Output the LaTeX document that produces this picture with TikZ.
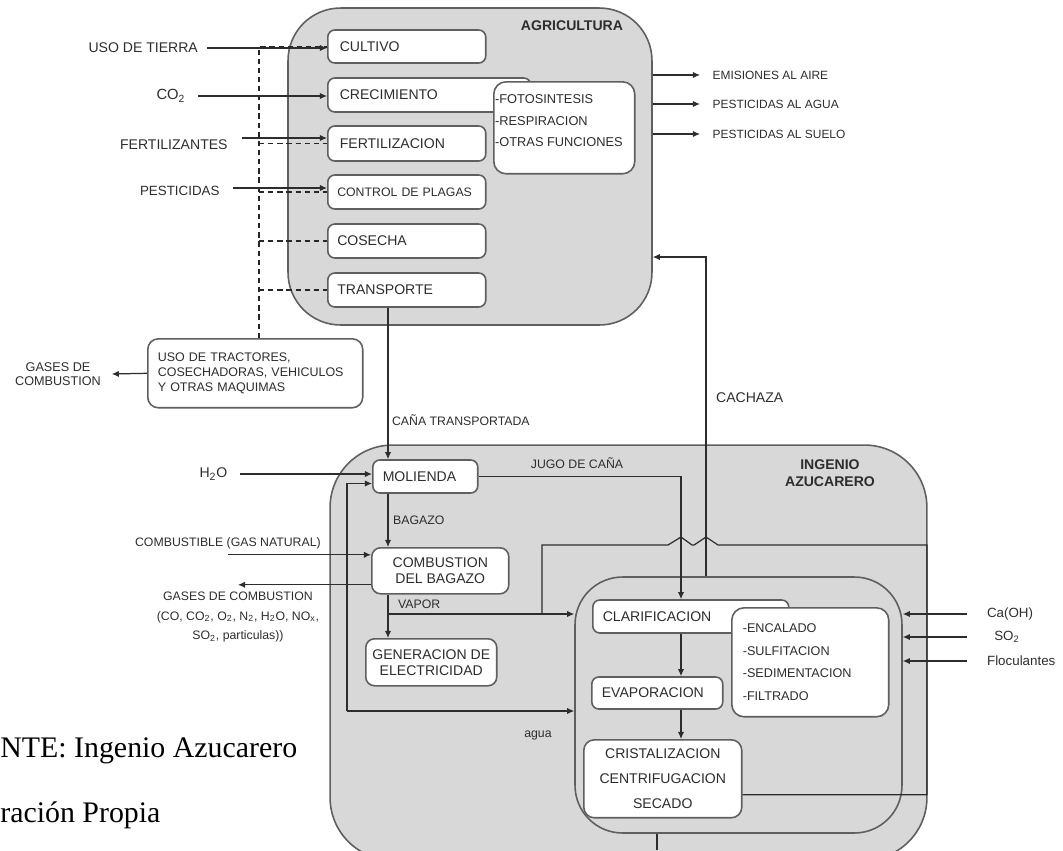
\documentclass[tikz,border=0pt]{standalone}
\usepackage{fontspec}
\setmainfont{Liberation Serif}
\setsansfont{Liberation Sans}
\usepackage{xcolor}
\usepackage{tikz}
\usetikzlibrary{arrows.meta, positioning}

\definecolor{zonegray}{RGB}{216,216,216}
\definecolor{edgegray}{RGB}{95,95,95}
\definecolor{inkgray}{RGB}{45,45,45}

\tikzset{
    zone/.style={draw=edgegray, line width=0.9pt, fill=zonegray},
    proc/.style={draw=edgegray, line width=0.9pt, fill=white, rounded corners=4pt, text=inkgray,
        font=\sffamily\fontsize{8}{9.2}\selectfont, inner xsep=0.24cm, inner ysep=0pt},
    lbl/.style={text=inkgray, font=\sffamily\fontsize{8}{9.5}\selectfont, inner sep=1pt},
    lblsm/.style={text=inkgray, font=\sffamily\fontsize{7}{8.4}\selectfont, inner sep=1pt},
    flow/.style={draw=inkgray, line width=0.7pt},
    arr/.style={flow, -{Latex[length=4pt,width=3.6pt]}},
    dline/.style={draw=black!85, line width=1.1pt, dash pattern=on 3pt off 2.2pt},
}

\begin{document}
\begin{tikzpicture}[x=0.02cm, y=-0.02cm]
    \useasboundingbox (0,0) rectangle (1063,850);

    % Zones
    \node[zone, rounded corners=1.05cm, minimum width=7.28cm, minimum height=6.34cm] (agri) at (470,166.5) {};
    \node[zone, rounded corners=1.25cm, minimum width=11.94cm, minimum height=8.3cm] (ingenio) at (628.5,652.5) {};
    \node[zone, rounded corners=0.95cm, minimum width=6.54cm, minimum height=5.12cm] (refino) at (738.5,705) {};
    \node[lbl, font=\sffamily\bfseries\fontsize{8}{9.5}\selectfont] (agrit) at (572,26) {AGRICULTURA};
    \node[lbl, align=center, font=\sffamily\bfseries\fontsize{8}{9.6}\selectfont] (ingt) at (830,473) {INGENIO\\AZUCARERO};

    % Agricultura
    \node[proc, anchor=west, text width=2.68cm, align=left, minimum height=0.66cm] (cultivo) at (327,46.5) {CULTIVO};
    \node[proc, anchor=west, text width=3.58cm, align=left, minimum height=0.68cm] (crecimiento) at (327,95) {CRECIMIENTO};
    \node[proc, anchor=west, text width=2.68cm, align=left, minimum height=0.70cm] (fertilizacion) at (327,143.5) {FERTILIZACION};
    \node[proc, anchor=west, text width=2.78cm, align=left, minimum height=0.68cm, inner xsep=0.19cm,
        font=\sffamily\fontsize{7}{8.4}\selectfont] (control) at (327,192) {CONTROL DE PLAGAS};
    \node[proc, anchor=west, text width=2.78cm, align=left, minimum height=0.68cm, inner xsep=0.19cm] (cosecha) at (327,241) {COSECHA};
    \node[proc, anchor=west, text width=2.78cm, align=left, minimum height=0.68cm, inner xsep=0.19cm] (transporte) at (327,290) {TRANSPORTE};
    \node[proc, anchor=north west, rounded corners=7pt, minimum width=2.82cm, minimum height=1.84cm] (fotobox) at (493,81) {};
    \node[lblsm, anchor=north west, align=left, font=\sffamily\fontsize{7.3}{12.5}\selectfont] (fototxt) at (493,92)
        {-FOTOSINTESIS\\-RESPIRACION\\-OTRAS FUNCIONES};

    % Entradas agricultura
    \node[lbl, anchor=east, inner xsep=5pt] (tierra) at (207,48) {USO DE TIERRA};
    \node[lbl, anchor=east, inner xsep=7pt, font=\sffamily\fontsize{8.4}{10}\selectfont] (co2) at (198,96) {CO\textsubscript{2}};
    \node[lbl, anchor=east, inner xsep=8pt] (fertil) at (242,145) {FERTILIZANTES};
    \node[lbl, anchor=east, inner xsep=7.5pt, font=\sffamily\fontsize{7.6}{9}\selectfont] (pest) at (233,191) {PESTICIDAS};
    \coordinate (fin) at ([yshift=0.11cm]fertilizacion.west);
    \coordinate (pin) at ([yshift=0.08cm]control.west);

    % Maquinaria (dashed)
    \node[proc, anchor=north west, text width=3.9cm, align=left, minimum height=1.38cm, inner xsep=0.2cm,
        rounded corners=6pt, font=\sffamily\fontsize{7.1}{8.3}\selectfont] (tractores) at (147,338)
        {USO DE TRACTORES,\\COSECHADORAS, VEHICULOS\\Y OTRAS MAQUIMAS};
    \node[lblsm, align=center, inner xsep=6pt, font=\sffamily\fontsize{7.2}{8.2}\selectfont] (gases1) at (58,374) {GASES DE\\COMBUSTION};
    \coordinate (dtop) at (259,47);
    \draw[dline] (tractores.north -| dtop) -- (dtop) -- (dtop -| cultivo.west);
    \draw[dline] (dtop |- fertilizacion.west) -- (fertilizacion.west);
    \draw[dline] (dtop |- control.west) -- (control.west);
    \draw[dline] (dtop |- cosecha.west) -- (cosecha.west);
    \draw[dline] (dtop |- transporte.west) -- (transporte.west);
    \draw[arr] (tractores.west) -- (gases1.east);

    \draw[arr] (tierra.east) -- (tierra.east -| cultivo.west);
    \draw[arr] (co2.east) -- (co2.east -| crecimiento.west);
    \draw[arr] (fertil.east |- fin) -- (fin);
    \draw[arr] (pest.east |- pin) -- (pin);

    % Salidas agricultura
    \node[lblsm, anchor=west, inner xsep=7pt, font=\sffamily\fontsize{6.8}{8}\selectfont] (emis) at (700,75) {EMISIONES AL AIRE};
    \node[lblsm, anchor=west, inner xsep=7pt, font=\sffamily\fontsize{6.8}{8}\selectfont] (pagua) at (700,104) {PESTICIDAS AL AGUA};
    \node[lblsm, anchor=west, inner xsep=7pt, font=\sffamily\fontsize{6.8}{8}\selectfont] (psuelo) at (700,134) {PESTICIDAS AL SUELO};
    \draw[arr] (emis.west -| agri.east) -- (emis.west);
    \draw[arr] (pagua.west -| agri.east) -- (pagua.west);
    \draw[arr] (psuelo.west -| agri.east) -- (psuelo.west);

    % Ingenio azucarero
    \node[proc, anchor=west, text width=1.7cm, align=left, minimum height=0.66cm, inner xsep=0.2cm] (molienda) at (372,476.5) {MOLIENDA};
    \node[proc, anchor=north west, minimum width=2.74cm, minimum height=0.92cm, align=center, inner xsep=0.1cm,
        rounded corners=5pt] (combustion) at (371,547) {COMBUSTION\\DEL BAGAZO};
    \node[proc, anchor=north west, minimum width=2.62cm, minimum height=0.94cm, align=center, inner xsep=0.05cm,
        rounded corners=5pt] (generacion) at (365,638) {GENERACION DE\\ELECTRICIDAD};
    \node[proc, anchor=west, text width=3.52cm, align=left, minimum height=0.66cm, inner xsep=0.2cm] (clarif) at (592,616.5) {CLARIFICACION};
    \node[proc, anchor=north west, text width=2.7cm, align=left, minimum height=2.18cm, inner xsep=0.22cm,
        rounded corners=7pt, font=\sffamily\fontsize{7.2}{12.8}\selectfont] (encal) at (731,607)
        {-ENCALADO\\-SULFITACION\\-SEDIMENTACION\\-FILTRADO};
    \node[proc, anchor=west, text width=2.22cm, align=left, minimum height=0.64cm, inner xsep=0.2cm] (evap) at (591,693) {EVAPORACION};
    \node[proc, anchor=north west, minimum width=3.16cm, minimum height=1.56cm, align=center, inner xsep=0.1cm,
        rounded corners=6pt, font=\sffamily\fontsize{8}{14.2}\selectfont] (cristal) at (583,739)
        {CRISTALIZACION\\CENTRIFUGACION\\SECADO};

    % Entradas y salidas del ingenio
    \node[lbl, anchor=east, inner xsep=7pt] (h2o) at (240,474) {H\textsubscript{2}O};
    \node[lblsm, anchor=west] (combus) at (133,543) {COMBUSTIBLE (GAS NATURAL)};
    \node[lblsm, align=center, font=\sffamily\fontsize{7}{11.3}\selectfont] (gases2) at (238,617)
        {GASES DE COMBUSTION\\(CO, CO\textsubscript{2}, O\textsubscript{2}, N\textsubscript{2}, H\textsubscript{2}O, NO\textsubscript{x},\\SO\textsubscript{2}, particulas))};
    \node[lblsm, font=\sffamily\fontsize{7.6}{9}\selectfont] (caoh) at (1010,614) {Ca(OH)};
    \node[lblsm, font=\sffamily\fontsize{7.6}{9}\selectfont] (so2) at (1007,637) {SO\textsubscript{2}};
    \node[lblsm, anchor=west, font=\sffamily\fontsize{7.6}{9}\selectfont] (floc) at (985,661) {Floculantes};
    \coordinate (rx) at (967,0);
    \draw[arr] (rx |- caoh) -- (caoh -| refino.east);
    \draw[arr] (rx |- so2) -- (so2 -| refino.east);
    \draw[arr] (rx |- floc) -- (floc -| refino.east);

    \coordinate (cin) at ([yshift=0.32cm]combustion.west);
    \coordinate (cout) at ([yshift=-0.28cm]combustion.west);
    \draw[arr] (h2o.east) -- (h2o.east -| molienda.west);
    \draw[arr] (cin -| combus.south) -- (cin);
    \draw[arr] (cout) -- (cout -| gases2.north);

    % Flujos internos
    \coordinate (col) at (388,0);
    \coordinate (jx) at (681,0);
    \coordinate (vap) at (388,614);
    \coordinate (ax) at (347,711);
    \coordinate (kx) at (706,257);
    \coordinate (rtop) at (927,545);
    \coordinate (rx2) at (542,545);
    \coordinate (bot) at (657,850);
    \draw[arr] (transporte.south -| col) -- (molienda.north -| col);
    \draw[arr] (molienda.south -| col) -- (combustion.north -| col);
    \draw[arr] (combustion.south -| col) -- (generacion.north -| col);
    \draw[arr] (vap) -- (vap -| refino.west);
    \draw[arr] (molienda.east) -| (jx |- clarif.north);
    \draw[arr] (clarif.south -| jx) -- (evap.north -| jx);
    \draw[arr] (evap.south -| jx) -- (cristal.north -| jx);
    \draw[arr] (ax) -- (ax -| refino.west);
    \draw[arr] (ax) |- ([yshift=-0.14cm]molienda.west);
    \draw[arr] (refino.north -| kx) -- (kx) -- (kx -| agri.east);
    \draw[flow] ([yshift=-0.32cm]cristal.east) -| (rtop) -- (718,545) -- (706,537) -- (694,545)
        -- (692,545) -- (681,537) -- (668,545) -- (rx2) -- (vap -| rx2);
    \draw[flow] (refino.south -| bot) -- (bot);

    % Etiquetas de flujo
    \node[lblsm, anchor=west] (canat) at (390,420) {CAÑA TRANSPORTADA};
    \node[lbl, anchor=west] (cachaza) at (714,398) {CACHAZA};
    \node[lblsm] (jugo) at (577,463) {JUGO DE CAÑA};
    \node[lblsm, anchor=west] (bagazo) at (391,520) {BAGAZO};
    \node[lblsm, anchor=west] (vapor) at (396,604) {VAPOR};
    \node[lblsm] (agua) at (538,735) {agua};

    % Fuente
    \node[anchor=base west, inner sep=0pt, font=\rmfamily\fontsize{17}{20}\selectfont] (fuente) at (0,757) {NTE: Ingenio Azucarero};
    \node[anchor=base west, inner sep=0pt, font=\rmfamily\fontsize{17}{20}\selectfont] (elab) at (0,822) {ración Propia};
\end{tikzpicture}
\end{document}
